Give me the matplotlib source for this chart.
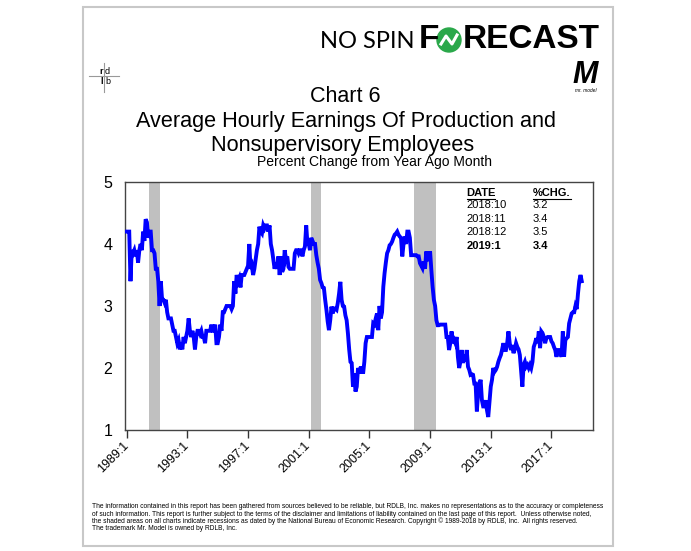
import numpy as np
import matplotlib
matplotlib.use('Agg')
import matplotlib.pyplot as plt
from matplotlib.lines import Line2D
from matplotlib.patches import Ellipse, Rectangle
from matplotlib.transforms import ScaledTranslation

# monthly % change from year ago, 1989:1 .. 2019:1
y1989 = [4.2, 4.2, 4.2, 3.4, 3.9, 3.85, 3.9, 3.8, 3.9, 3.7, 3.9, 4.0]
y1990 = [3.9, 4.2, 4.05, 4.4, 4.35, 4.1, 4.2, 4.2, 3.9, 3.9, 3.85, 3.6]
y1991 = [3.6, 3.4, 3.0, 3.4, 3.1, 3.1, 3.05, 3.1, 2.9, 2.8, 2.8, 2.8]
y1992 = [2.7, 2.6, 2.6, 2.5, 2.4, 2.45, 2.3, 2.4, 2.3, 2.5, 2.4, 2.5]
y1993 = [2.6, 2.8, 2.6, 2.5, 2.6, 2.5, 2.3, 2.5, 2.6, 2.6, 2.55, 2.6]
y1994 = [2.5, 2.5, 2.4, 2.6, 2.6, 2.6, 2.6, 2.7, 2.6, 2.6, 2.7, 2.4]
y1995 = [2.4, 2.5, 2.7, 2.6, 2.9, 2.9, 2.95, 3.0, 3.0, 3.0, 3.0, 2.95]
y1996 = [3.0, 3.4, 3.2, 3.5, 3.4, 3.45, 3.3, 3.5, 3.5, 3.5, 3.55, 3.6]
y1997 = [3.65, 4.0, 3.6, 3.65, 3.5, 3.6, 3.75, 3.9, 4.0, 4.28, 4.2, 4.17]
y1998 = [4.3, 4.25, 4.3, 4.3, 4.2, 4.3, 4.0, 3.9, 3.75, 3.6, 3.7, 3.6]
y1999 = [3.8, 3.5, 3.8, 3.55, 3.6, 3.9, 3.75, 3.8, 3.63, 3.6, 3.6, 3.6]
y2000 = [3.6, 3.85, 3.9, 3.9, 3.85, 3.9, 3.9, 3.8, 3.9, 3.96, 4.3, 4.0]
y2001 = [4.0, 3.9, 4.1, 4.05, 4.0, 4.0, 3.82, 3.7, 3.6, 3.42, 3.37, 3.3]
y2002 = [3.29, 3.1, 2.94, 2.75, 2.61, 2.77, 2.99, 2.88, 2.96, 2.96, 2.94, 3.05]
y2003 = [3.2, 3.39, 3.1, 3.0, 2.99, 2.85, 2.77, 2.56, 2.3, 2.1, 2.08, 1.7]
y2004 = [1.91, 1.62, 1.7, 2.0, 1.91, 2.0, 2.0, 1.91, 2.1, 2.4, 2.5, 2.5]
y2005 = [2.5, 2.5, 2.5, 2.72, 2.7, 2.8, 2.88, 2.61, 3.0, 2.8, 2.9, 3.31]
y2006 = [3.53, 3.7, 3.85, 3.9, 3.98, 4.0, 4.04, 4.1, 4.15, 4.17, 4.2, 4.15]
y2007 = [4.12, 4.1, 3.8, 4.0, 4.12, 4.0, 4.2, 4.2, 4.1, 3.82, 3.82, 3.82]
y2008 = [3.82, 3.82, 3.8, 3.8, 3.69, 3.65, 3.61, 3.72, 3.6, 3.88, 3.75, 3.75]
y2009 = [3.88, 3.58, 3.31, 3.1, 3.0, 2.77, 2.69, 2.69, 2.7, 2.7, 2.7, 2.7]
y2010 = [2.7, 2.5, 2.5, 2.29, 2.4, 2.59, 2.4, 2.45, 2.4, 2.5, 2.18, 2.0]
y2011 = [2.1, 2.29, 2.08, 2.21, 2.1, 2.29, 2.02, 1.97, 1.89, 1.9, 1.89, 1.75]
y2012 = [1.75, 1.3, 1.6, 1.75, 1.81, 1.48, 1.38, 1.38, 1.48, 1.32, 1.21, 1.45]
y2013 = [1.7, 1.81, 2.0, 1.94, 1.97, 2.02, 2.1, 2.16, 2.21, 2.3, 2.4, 2.29]
y2014 = [2.29, 2.4, 2.59, 2.4, 2.29, 2.37, 2.24, 2.3, 2.4, 2.34, 2.3, 2.21]
y2015 = [1.95, 1.7, 2.05, 2.1, 2.02, 2.05, 2.0, 2.05, 2.0, 2.1, 2.34, 2.4]
y2016 = [2.48, 2.4, 2.59, 2.32, 2.59, 2.56, 2.5, 2.4, 2.48, 2.5, 2.5, 2.5]
y2017 = [2.43, 2.4, 2.34, 2.29, 2.18, 2.29, 2.29, 2.25, 2.18, 2.59, 2.18, 2.45]
y2018 = [2.48, 2.5, 2.72, 2.8, 2.88, 2.9, 2.9, 3.0, 2.95, 3.2, 3.4, 3.5]
y2019 = [3.4]

pct_chg = (y1989 + y1990 + y1991 + y1992 + y1993 + y1994 + y1995 + y1996 + y1997
           + y1998 + y1999 + y2000 + y2001 + y2002 + y2003 + y2004 + y2005 + y2006
           + y2007 + y2008 + y2009 + y2010 + y2011 + y2012 + y2013 + y2014 + y2015
           + y2016 + y2017 + y2018 + y2019)

recessions = [((1990, 7), (1991, 3)), ((2001, 3), (2001, 11)), ((2007, 12), (2009, 6))]
tick_years = [1989, 1993, 1997, 2001, 2005, 2009, 2013, 2017]

table_dates = ['2018:10', '2018:11', '2018:12', '2019:1']
table_vals = ['3.2', '3.4', '3.5', '3.4']

title_lines = ['Chart 6', 'Average Hourly Earnings Of Production and', 'Nonsupervisory Employees']
subtitle = 'Percent Change from Year Ago Month'
footer = [
    'The information contained in this report has been gathered from sources believed to be reliable, but RDLB, Inc. makes no representations as to the accuracy or completeness',
    'of such information. This report is further subject to the terms of the disclaimer and limitations of liability contained on the last page of this report.  Unless otherwise noted,',
    'the shaded areas on all charts indicate recessions as dated by the National Bureau of Economic Research. Copyright \u00a9 1989-2018 by RDLB, Inc.  All rights reserved.',
    'The trademark Mr. Model is owned by RDLB, Inc.',
]

W, H = 691, 551
plt.rcParams['font.family'] = ['Liberation Sans', 'DejaVu Sans']


def fx(x):
    return x / W


def fy(y):
    return 1 - y / H


def to_t(ym):
    return ym[0] + (ym[1] - 1) / 12.0


fig = plt.figure(figsize=(W / 100, H / 100), dpi=100)

# page frame
fig.add_artist(Rectangle((fx(83), fy(546)), fx(613) - fx(83), fy(7) - fy(546),
                         transform=fig.transFigure, fill=False, ec='#c8c8c8', lw=1.5))

ax = fig.add_axes([fx(125), fy(430), fx(593) - fx(125), fy(182) - fy(430)])
t = 1989 + np.arange(len(pct_chg)) / 12.0
for start, end in recessions:
    ax.axvspan(to_t(start), to_t(end), color='#c0c0c0', lw=0, zorder=1)
ax.plot(t, pct_chg, color='#0000ff', lw=2.8, solid_joinstyle='miter', zorder=3)

ax.set_xlim(1988.888, 2019.74)
ax.set_ylim(1, 5)
ax.set_yticks([1, 2, 3, 4, 5])
ax.set_xticks(tick_years)
ax.set_xticklabels(['%d:1' % y for y in tick_years], rotation=45, ha='right',
                   rotation_mode='anchor', va='center', fontsize=9)
shift = ScaledTranslation(7 / 100, -4 / 100, fig.dpi_scale_trans)
for lab in ax.get_xticklabels():
    lab.set_transform(lab.get_transform() + shift)
ax.tick_params(axis='y', length=0, pad=9, labelsize=11.5)
ax.tick_params(axis='x', length=6, width=1, color='#333333', pad=4, direction='out')
for sp in ax.spines.values():
    sp.set_color('#444444')
    sp.set_linewidth(1.0)

# data table
ax_tx = fig.transFigure
fig.text(fx(466.7), fy(193), 'DATE', fontsize=8, fontweight='bold', va='center')
fig.text(fx(532.7), fy(193), '%CHG.', fontsize=8, fontweight='bold', va='center')
fig.add_artist(Line2D([fx(466.7), fx(495)], [fy(198.5), fy(198.5)], color='black', lw=0.8))
fig.add_artist(Line2D([fx(532.7), fx(571)], [fy(198.5), fy(198.5)], color='black', lw=0.8))
for i, (d, v) in enumerate(zip(table_dates, table_vals)):
    w = 'bold' if i == len(table_dates) - 1 else 'normal'
    yy = 205.5 + i * 13.4
    fig.text(fx(466.7), fy(yy), d, fontsize=8, fontweight=w, va='center')
    fig.text(fx(532.7), fy(yy), v, fontsize=8, fontweight=w, va='center')

# titles
fig.text(fx(345), fy(97), title_lines[0], fontsize=15.5, ha='center', va='center')
fig.text(fx(346), fy(122), title_lines[1], fontsize=15.6, ha='center', va='center')
fig.text(fx(343), fy(146), title_lines[2], fontsize=15.6, ha='center', va='center')
fig.text(fx(374), fy(162), subtitle, fontsize=10, ha='center', va='center')

# NO SPIN FORECAST logo
fig.text(fx(320), fy(42), 'NO SPIN', fontsize=17, family=['Lato', 'DejaVu Sans'],
         va='center')
fig.text(fx(419), fy(40), 'F', fontsize=24, fontweight='bold', va='center')
fig.add_artist(Ellipse((fx(449), fy(40)), 24 / W, 24 / H, transform=ax_tx,
                       color='#2aa84a'))
fig.add_artist(Line2D([fx(441), fx(446), fx(452), fx(457)],
                      [fy(44), fy(36), fy(44), fy(35)], color='white', lw=2.2))
fig.text(fx(463), fy(40), 'RECAST', fontsize=24, fontweight='bold', va='center')

# rdlb logo
fig.add_artist(Line2D([fx(89), fx(119)], [fy(76), fy(76)], color='#999999', lw=0.8))
fig.add_artist(Line2D([fx(104), fx(104)], [fy(63), fy(92)], color='#999999', lw=0.8))
fig.text(fx(101.5), fy(71), 'r', fontsize=6.5, fontweight='bold', ha='center', va='center')
fig.text(fx(107.5), fy(71), 'd', fontsize=6.5, ha='center', va='center')
fig.text(fx(101.5), fy(82), 'l', fontsize=6.5, fontweight='bold', ha='center', va='center')
fig.text(fx(107.5), fy(82), 'b', fontsize=6.5, ha='center', va='center')

# Mr. Model logo
fig.text(fx(585), fy(75), 'M', fontsize=22, fontweight='bold', style='italic',
         ha='center', va='center')
fig.text(fx(586), fy(91), 'mr. model', fontsize=3.5, style='italic', ha='center', va='center')

# footer
for i, line in enumerate(footer):
    fig.text(fx(92), fy(507 + i * 7.3), line, fontsize=4.75, va='center',
             family=['Liberation Sans Narrow', 'Liberation Sans'])

fig.savefig('out.png', dpi=100)
